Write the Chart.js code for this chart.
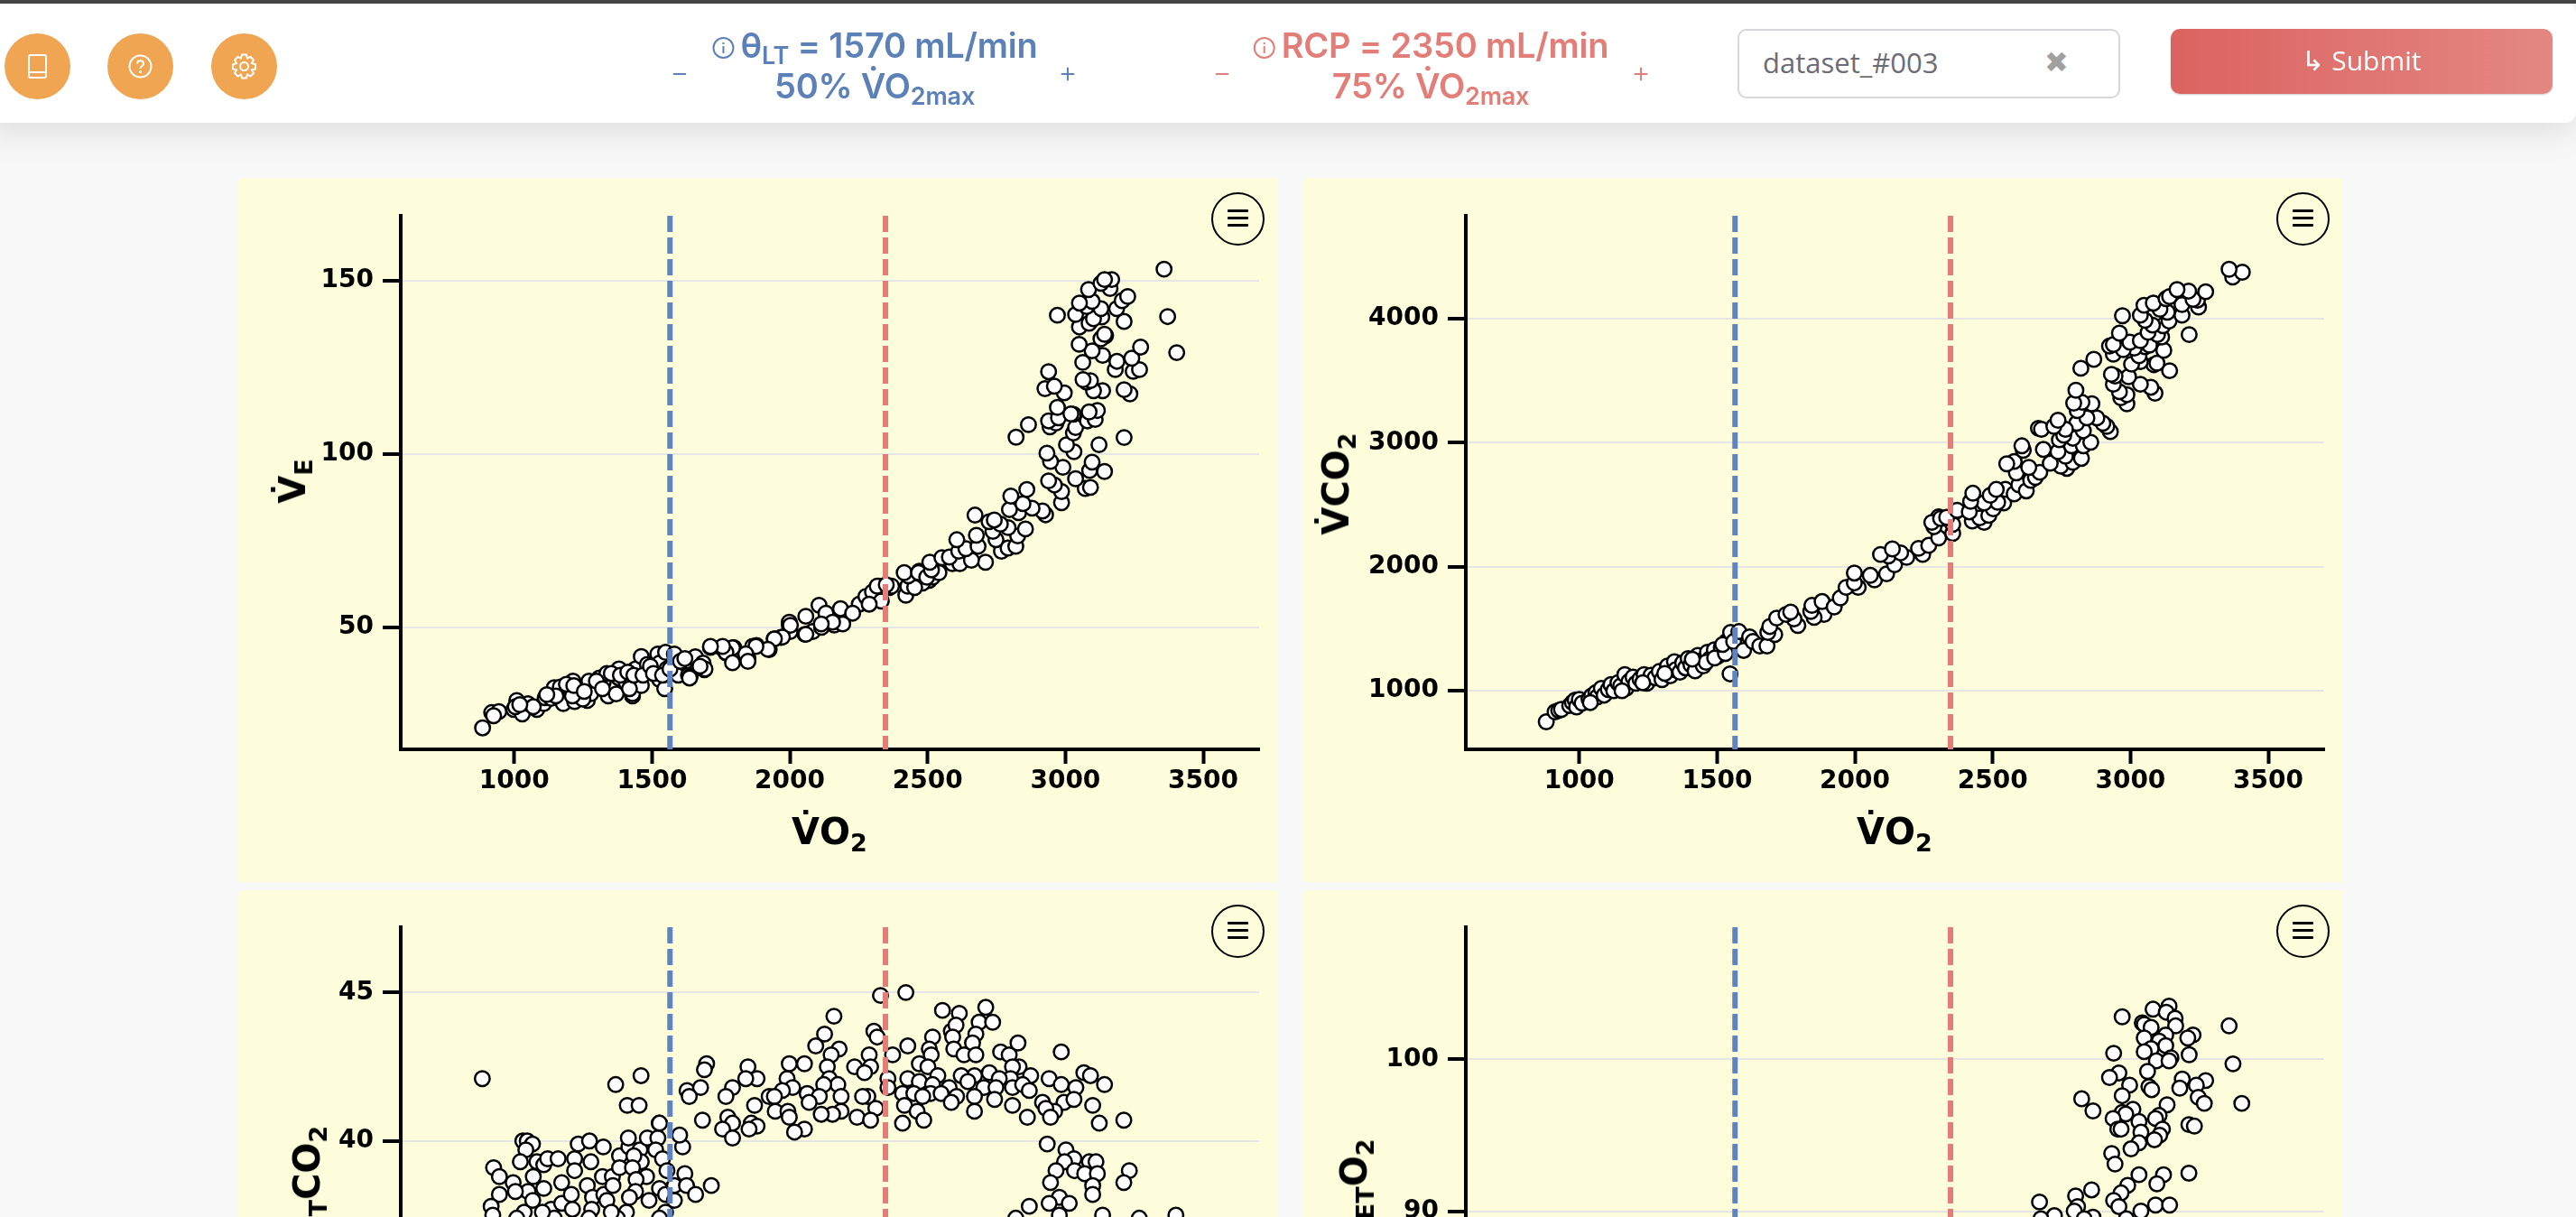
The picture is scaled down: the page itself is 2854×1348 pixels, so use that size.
<!DOCTYPE html>
<html>
<head>
<meta charset="utf-8">
<title>Threshold review</title>
<script src="https://cdn.jsdelivr.net/npm/chart.js@4"></script>
<style>
  html, body { margin: 0; height: 1348px; overflow: hidden; background: #f8f8f9; }
  body { position: relative; width: 2854px; font-family: Inter, sans-serif; }
  .topline { position: absolute; left: 0; top: 0; width: 2854px; height: 4px; background: #454545; z-index: 3; }
  .header { position: absolute; left: -20px; top: 3px; width: 2874px; height: 133px; background: #fff; border-radius: 0 12px 12px 0; box-shadow: 0 6px 40px rgba(0,0,0,0.13); z-index: 2; }
  .round { position: absolute; top: 37px; width: 73px; height: 73px; border-radius: 50%; background: #f0a553; z-index: 4; }
  .round svg { position: absolute; left: 20px; top: 20px; }
  .thr { position: absolute; top: 28px; text-align: center; font-weight: 600; font-size: 38px; line-height: 45px; white-space: nowrap; z-index: 4; letter-spacing: -0.2px; }
  .thr sub { font-size: 27px; line-height: 0; vertical-align: -7px; }
  .thr.blue, .step.blue { color: #5c80b8; }
  .thr.red, .step.red { color: #e27d78; }
  .thr svg { vertical-align: -2px; margin-right: 6px; }
  .step { position: absolute; top: 60px; font-size: 32px; font-weight: 300; z-index: 4; transform: translateX(-50%); }
  .field { position: absolute; left: 1925px; top: 32px; width: 420px; height: 73px; border: 2px solid #d6d6dc; border-radius: 10px; background: #fff; z-index: 4; font-family: "Open Sans", sans-serif; font-size: 31px; color: #6c6c76; line-height: 71px; }
  .field span { position: absolute; left: 26px; }
  .field b { position: absolute; left: 338px; font-family: "DejaVu Sans"; font-size: 32px; color: #a0a0a0; }
  .submit { position: absolute; left: 2405px; top: 32px; width: 423px; height: 72px; border-radius: 10px; background: linear-gradient(90deg, #db6360, #e38783); color: #fff; font-family: "Open Sans", sans-serif; font-weight: 500; font-size: 30px; line-height: 70px; text-align: center; z-index: 4; box-shadow: 0 1px 2px rgba(0,0,0,0.2); }
  .panel { position: absolute; width: 1152px; height: 780px; background: #fdfddb; border-radius: 4px; }
  .panel canvas { position: absolute; left: 0; top: 0; }
  .menu { position: absolute; left: 1078px; top: 16px; width: 55px; height: 55px; border: 2px solid #000; border-radius: 50%; }
  .menu i { position: absolute; left: 16px; width: 23px; height: 3px; background: #000; border-radius: 1px; }
  .xt, .yt { position: absolute; font-family: "DejaVu Sans"; font-weight: 700; font-size: 40px; white-space: nowrap; color: #000; line-height: 1; }
  .xt sub, .yt sub { font-size: 27px; line-height: 0; vertical-align: -8px; }
  .xt { left: 655px; top: 704px; transform: translateX(-50%); }
  .yt { transform: translate(-50%, -50%) rotate(-90deg); }
</style>
</head>
<body>
<div class="topline"></div>
<div class="header"></div>
<div class="round" style="left:5px"><svg width="33" height="33" viewBox="0 0 33 33" fill="none" stroke="#fff" stroke-width="2"><rect x="7" y="4" width="19" height="25" rx="2"/><line x1="7" y1="23" x2="26" y2="23"/></svg></div>
<div class="round" style="left:119px"><svg width="33" height="33" viewBox="0 0 33 33" fill="none" stroke="#fff" stroke-width="2"><circle cx="16.5" cy="16.5" r="12"/><path d="M13 13.5c0-4.5 7-4.5 7 0 0 3-3.5 2.5-3.5 5.5"/><circle cx="16.5" cy="22.5" r="0.6"/></svg></div>
<div class="round" style="left:234px"><svg width="33" height="33" viewBox="0 0 33 33" fill="none" stroke="#fff" stroke-width="2"><circle cx="16.5" cy="16.5" r="4.5"/><path d="M14 3.5h5l1 4 3.5-1.5 3.5 3.5-2 3.5 4 1.5v5l-4 1 2 3.5-3.5 3.5-3.5-2-1 4h-5l-1-4-3.5 2-3.5-3.5 2-3.5-4-1v-5l4-1.5-2-3.5 3.5-3.5 3.5 1.5z"/></svg></div>

<div class="step blue" style="left:753px">−</div>
<div class="thr blue" style="left:969px;transform:translateX(-50%)"><svg width="26" height="26" viewBox="0 0 26 26" fill="none" stroke="#5c80b8" stroke-width="2"><circle cx="13" cy="13" r="11"/><line x1="13" y1="11" x2="13" y2="19"/><line x1="13" y1="7" x2="13" y2="9"/></svg>θ<sub>LT</sub> = 1570 mL/min<br>50% V̇O<sub>2max</sub></div>
<div class="step blue" style="left:1183px">+</div>
<div class="step red" style="left:1354px">−</div>
<div class="thr red" style="left:1585px;transform:translateX(-50%)"><svg width="26" height="26" viewBox="0 0 26 26" fill="none" stroke="#e27d78" stroke-width="2"><circle cx="13" cy="13" r="11"/><line x1="13" y1="11" x2="13" y2="19"/><line x1="13" y1="7" x2="13" y2="9"/></svg>RCP = 2350 mL/min<br>75% V̇O<sub>2max</sub></div>
<div class="step red" style="left:1818px">+</div>
<div class="field"><span>dataset_#003</span><b>✖</b></div>
<div class="submit">↳ Submit</div>

<div id="panels"></div>

<script>
  // where the dashed lines sit on the axis in the picture
  const thetaLT = 1565;
  const rcp = 2347;

  const xTicks = [1000, 1500, 2000, 2500, 3000, 3500];
  const veTicks = [50, 100, 150];
  const vco2Ticks = [1000, 2000, 3000, 4000];
  const petco2Ticks = [40, 45];
  const peto2Ticks = [90, 100];

  // [VO2, VE]
  const vePoints = [[885,21],[918,25.4],[944,25.7],[925,24.5],[998,26.3],[1009,28.9],[1029,25],[1049,28],[1082,26.3],[1107,28],[1112,29.7],[1145,32.6],[1134,29.5],[1172,31],[1178,28],[1200,32.8],[1213,34.5],[1219,28.6],[1221,31.5],[1265,28.9],[1271,34.5],[1278,30.9],[1309,35.4],[1323,34.2],[1336,36.7],[1341,30.2],[1370,30.8],[1380,35.4],[1380,38],[1407,33.9],[1429,30.2],[1429,30.9],[1440,38],[1456,35.1],[1461,41.6],[1483,39.3],[1461,33.2],[1520,36.7],[1527,35],[1521,42.3],[1527,39.7],[1549,42.8],[1581,42.3],[1554,38],[1546,32.3],[1595,36.2],[1617,39.7],[1632,36.2],[1638,35.8],[1657,41.5],[1685,39.7],[1690,37.8],[1692,38],[1712,44.2],[1753,44.1],[1769,42.6],[1797,44.1],[1794,40.6],[1843,42.1],[1848,41],[1865,44.5],[1879,44.8],[1925,43.6],[1943,46.7],[1968,47.1],[2001,48.8],[2055,48],[1998,50.6],[2083,48.8],[2115,50],[2161,50.7],[2192,51],
    [1004,27.1],[1069,27.1],[1020,27.7],[1167,32.8],[1232,30.6],[1249,29.3],[1211,30.2],[1298,34.5],[1320,32.3],[1352,36.7],[1385,36.2],[1412,37.1],[1418,32.3],[1434,36.2],[1467,36.2],[1494,38.8],[1505,36.7],[1538,36.2],[1565,38],[1603,40.2],[1619,41],[1636,35.4],[1674,38.8],[1151,30.2],[1118,30.6],[1189,33.6],[1216,33.2],[1254,31.5],
    [2106,56.4],[2131,54.1],[2058,53.2],[1998,51.5],[2002,50.6],[2184,55.4],[2155,51.5],[2114,51],[2252,56.7],[2276,58.9],[2300,60.2],[2324,61.9],[2361,61.5],[2332,57.6],[2228,54.1],[2288,56.7],[2058,48],[1973,47.2],[1944,46.7],[1920,43.7],[1877,44.5],[1840,42.4],[1848,40.2],[1792,44.1],[1768,42.8],[1792,39.8],[1756,44.5],[1712,44.5],[2421,59.3],[2428,61.9],[2470,66.2],[2506,63.6],[2518,64.5],[2482,62.8],[2453,61.5],
    [2369,61.9],[2317,61.9],[2350,62.3],[2430,64.9],[2415,65.8],[2467,65.8],[2497,64.5],[2541,65.8],[2514,66.6],[2508,68.8],[2590,68.4],[2617,68.4],[2710,68.8],[2659,69.4],[2552,70.1],[2579,70.3],[2613,72],[2639,72.7],[2768,72],[2792,72.9],[2820,73.4],[2683,73.4],[2606,75.3],[2827,76.4],[2748,75.3],[2737,77.7],[2677,76.6],[2855,78.4],[2792,78.8],[2764,79.8],[2723,80.5],[2742,81],[2672,82.4],[2830,83.1],[2797,84],[2928,82.5],[2917,83.6],[2879,84.4],[2846,85.7],[2802,87.9],[2860,89.8],[2986,86],[3072,90.1],[3091,90.4],[2986,89.2],[2960,91.1],[2939,92.3],[3037,92.9],[3142,95],[3088,95.3],[3097,97.7],[2991,96.2],[2946,97.9],[2933,100.3],[3213,104.8],[3122,102.7],[3031,100.7],[3004,102.7],[3029,106.1],[3037,107.7],[2821,104.9],[2866,108.5],[2944,107.9],[2966,109],[2939,109.6],[2975,110.5],[3080,109.6],[3108,110],[3116,112.6],[3086,112.2],[3029,111.5],[3020,111.6],[2971,113.5],[3234,117.4],[3213,118.6],[3135,118.3],[3102,118.3],[3077,120.8],[3091,121.2],[3064,121.5],[2996,117.7],[2926,118.9],[2960,119.6],[2939,123.8],[3246,123.9],[3269,124.4],[3181,124.4],[3241,127.7],[3187,126.8],[3063,126.5],[3135,128.5],[3097,129.8],[3273,130.9],[3050,131.7],[3146,134.2],[3129,133.3],[3142,134.6],[3213,138.3],[3051,136.7],[3086,137.8],[3132,139.6],[3102,139.1],[2971,140.1],[3037,140.3],[3129,142],[3077,142.6],[3097,144.1],[3051,143.6],[3186,142],[3206,144.3],[3226,145.5],[3084,147.5],[3162,147.8],[3129,149.3],[3168,150.4],[3142,150.4],[3404,129.3],[3371,139.7],[3358,153.4]];

  // [VO2, VCO2]
  const vco2Points = [[880,750],[912,830],[925,842],[935,850],[965,880],[975,905],[985,925],[990,870],[1000,930],[1010,900],[1035,935],[1045,960],[1060,985],[1065,950],[1080,1020],[1090,965],[1105,1010],[1115,1050],[1125,1000],[1140,1065],[1150,1040],[1165,1130],[1170,1020],[1180,1075],[1195,1110],[1205,1060],[1220,1095],[1235,1130],[1245,1060],[1260,1125],[1275,1105],[1290,1155],[1300,1090],[1320,1200],[1330,1120],[1345,1235],[1350,1170],[1365,1150],[1375,1225],[1385,1185],[1395,1260],[1405,1210],[1420,1160],[1430,1285],[1440,1240],[1450,1200],[1465,1310],[1475,1260],[1490,1330],[1500,1275],[1515,1350],[1525,1300],[1535,1400],[1545,1330],[1460,1230],[1410,1255],[1310,1140],[1230,1065],[1155,1000],[1040,905],
    [1547,1136],[1491,1264],[1530,1301],[1520,1373],[1549,1470],[1560,1397],[1579,1477],[1596,1325],[1618,1434],[1630,1397],[1655,1361],[1681,1361],[1709,1453],[1684,1470],[1691,1518],[1716,1586],[1793,1526],[1779,1579],[1750,1615],[1767,1635],[1888,1615],[1852,1591],[1840,1639],[1844,1688],[1881,1719],[1925,1676],[1947,1748],[2012,1833],[1968,1833],[1998,1869],[1998,1949],[2071,1893],[2056,1930],[2115,1942],[2144,2015],[2122,2087],[2188,2075],[2166,2111],[2093,2099],[2136,2143],[2246,2099],[2231,2148],[2268,2172],[2304,2232],[2287,2322],[2355,2269],[2355,2341],[2304,2402],[2326,2390],[2370,2450],
    [2469,2357],[2426,2369],[2279,2357],[2453,2393],[2486,2413],[2311,2389],[2333,2398],[2371,2454],[2415,2442],[2502,2466],[2540,2514],[2518,2519],[2469,2514],[2420,2526],[2428,2592],[2546,2623],[2491,2575],[2513,2623],[2578,2587],[2595,2660],[2622,2611],[2638,2696],[2655,2720],[2671,2761],[2586,2756],[2631,2800],[2769,2793],[2747,2810],[2709,2834],[2578,2848],[2551,2829],[2791,2841],[2822,2873],[2764,2890],[2737,2926],[2786,2974],[2684,2945],[2611,2938],[2606,2974],[2829,2974],[2856,3003],[2742,3023],[2791,3035],[2758,3059],[2829,3095],[2805,3156],[2764,3107],[2666,3115],[2677,3107],[2722,3131],[2737,3180],[2927,3088],[2914,3131],[2900,3156],[2878,3199],[2842,3199],[2807,3257],[2860,3313],[2824,3325],[2794,3318],[2987,3313],[2965,3361],[2987,3386],[2960,3410],[2802,3422],[3089,3398],[3074,3446],[3036,3470],[2938,3470],[2993,3531],[2944,3536],[2931,3550],[3142,3579],[2820,3599],[2867,3671],[3085,3628],[3096,3640],[3036,3652],[3004,3632],[3031,3700],[2938,3712],[3053,3773],[3121,3744],[3069,3785],[3014,3761],[2974,3749],[2924,3778],[2938,3790],[2998,3809],[3036,3821],[3113,3850],[3098,3870],[2960,3882],[3213,3870],[3118,3942],[3064,3889],[3080,3947],[3140,3979],[2971,4022],[3053,3986],[3036,4027],[3187,4027],[3134,4051],[3167,4184],[3247,4092],[3187,4112],[3107,4075],[3049,4107],[3083,4124],[3243,4148],[3227,4155],[3129,4160],[3142,4177],[3211,4221],[3169,4233],[3273,4216],[3371,4334],[3406,4373],[3358,4397]];

  // [VO2, PETCO2]
  const petco2Points = [[884,42.1],[1368,41.9],[1460,42.2],[1410,41.2],[1453,41.2],[1526,40.6],
    [1031,40],[1047,40],[1066,39.9],[1042,39.7],[925,39.1],[946,38.8],[996,38.6],[1022,39.3],[1082,39.3],[1107,39.2],[1121,39.4],[1159,39.4],[1219,39.4],[1232,39.9],[1273,40],[1323,39.8],[1278,39.3],[1219,39],[1069,38.8],[1172,38.6],[1107,38.4],[1050,38.3],[1004,38.3],[946,38.2],[916,37.8],[1036,37.6],[1067,38],[1134,37.7],[1172,37.9],[1207,38.2],[1211,37.7],[1265,38.5],[1284,38.1],[1320,38.8],[1356,38.8],[1325,38.2],[1336,38],[1281,37.7],[1358,38.5],[1382,39.5],[1416,39.8],[1456,39.7],[1483,40.1],[1414,40.1],[1521,40.1],[1513,39.7],[1538,39.4],[1461,39.3],[1434,39.5],[1382,39.1],[1429,39.1],[1480,38.8],[1442,38.7],[1440,38.3],[1418,38.1],[1489,38],[1527,38.4],[1549,38.2],[1581,38],[1581,38.5],[1619,38.9],[1625,38.5],[1658,38.2],[1715,38.5],[1554,39],[1611,39.8],[1600,40.2],[1527,40.6],[1549,37.6],[1527,37.4],[1407,37.6],[1374,37.4],[1271,37.4],[1145,37.4],[1102,37.6],[1009,37.4],[922,37.5],[1352,37.6],
    [2329,44.9],[2421,45],[2554,44.4],[2615,44.3],[2711,44.5],[2687,44],[2736,44],[2160,44.2],[2305,43.7],[2317,43.5],[2126,43.6],[2094,43.2],[2179,43.1],[2150,42.9],[2288,42.9],[2586,43.7],[2675,43.6],[2603,43.9],[2518,43.5],[2428,43.2],[2591,43.5],[2506,43.1],[2513,42.9],[2595,43.1],[2663,43.3],[2632,42.9],[2675,42.9],[2765,43],[2796,42.9],[2828,43.3],[2985,43],[2373,42.9],[2235,42.5],[2053,42.6],[1998,42.6],[1848,42.5],[1698,42.6],[1690,42.4],[2136,42.5],[2293,42.5],[2271,42.3],[2470,42.6],[2501,42.5],[2832,42.5],[2808,42.5],[2670,42.2],[2724,42.3],[2537,42.2],[2622,42.2],[2428,42.1],[2470,42],[2356,42.1],[2356,41.8],[1990,42.1],[1881,42.1],[1840,42.1],[1792,41.8],[1627,41.7],[1676,41.8],[2143,42.1],[2174,41.9],[2123,41.9],[2010,41.8],[1973,41.7],[2874,42.2],[2801,42.1],[2760,42.1],[2941,42.1],[2985,41.9],[3067,42.3],[3091,42.2],[3142,41.9],[3038,41.8],[2646,42],[2518,41.9],[2578,41.8],[2704,41.8],[2748,41.8],[2808,41.8],[2845,41.9],[2869,41.7],[1635,41.5],[1768,41.5],[1925,41.5],[1944,41.5],[2063,41.6],[2107,41.5],[2070,41.3],[2186,41.5],[2283,41.5],[2264,41.5],[2409,41.6],[2450,41.6],[2511,41.6],[2482,41.5],[2549,41.6],[2605,41.5],[2670,41.5],[2586,41.3],[2743,41.4],[2917,41.3],[2995,41.3],[3031,41.4],[3099,41.2],[1872,41.2],[2416,41.2],[2808,41.2],[2961,41],[2929,41.1],[2312,41.1],[2186,41],[1947,41],[1993,41],[2155,40.9],[2114,40.9],[1775,40.8],[1683,40.7],[1998,40.8],[2244,40.8],[2670,41],[2462,41],[2409,40.6],[2293,40.7],[2486,40.7],[2862,40.8],[2946,40.8],[3123,40.6],[3212,40.7],[1792,40.6],[1860,40.6],[1881,40.5],[1852,40.4],[1756,40.4],[1792,40.1],[2053,40.4],[2017,40.3],[2934,39.9],[3002,39.7],[3031,39.4],[2997,39.3],[3087,39.3],[3111,39.3],[2966,39],[3033,39],[3070,38.9],[3116,38.9],[3232,39],[3212,38.6],[2946,38.6],[3099,38.5],[3099,38.2],[2978,38.1],[2941,37.9],[3014,37.9],[2869,37.8],[2820,37.4],[2978,37.5],[3135,37.5],[3268,37.4],[3401,37.5]];

  // [VO2, PETO2]
  const peto2Points = [[3140,103.5],[3082,103.3],[3130,103.1],[3162,102.7],[2970,102.8],[3043,102.4],[3050,102.3],[3075,102.1],[3164,102.2],[3358,102.2],[3050,101.4],[3128,101.6],[3104,101.2],[3227,101.6],[3208,101.4],[3128,100.9],[3075,100.7],[3050,100.5],[2939,100.4],[3213,100.3],[3147,100.1],[3094,99.9],[3140,99.9],[3372,99.7],[3062,99.2],[2958,99.1],[2924,98.8],[3188,98.7],[3273,98.6],[2997,98.3],[3239,98.3],[3067,98.2],[3077,98],[3179,98.1],[2970,97.6],[3246,97.5],[2823,97.4],[3268,97.1],[3404,97.1],[3133,97],[2864,96.6],[2970,96.5],[3009,96.7],[2983,96.4],[3104,96.3],[2937,96.1],[3091,96.1],[3031,95.9],[3212,95.7],[3232,95.6],[2954,95.4],[2966,95.4],[3116,95.4],[3038,95.2],[3106,95],[3087,94.7],[3031,94.5],[3002,94.1],[2932,93.8],[2944,93.1],[3212,92.5],[3120,92.4],[3031,92.4],[3096,91.8],[2990,91.7],[2859,91.4],[2966,91.2],[2801,91],[2670,90.6],[2939,90.7],[2808,90.3],[2958,90.3],[3091,90.4],[3142,90.4],[2796,90],[3038,90],[2724,89.7],[2864,89.6],[2985,89.5],[2675,89.5],[2832,89.5]];

  const xMin = 588;
  const xMax = 3703;

  const panels = [
    { left: 264, top: 197, padTop: 42, points: vePoints, ticks: veTicks, yMin: 14.8, yMax: 168.8, title: 'V̇<sub>E</sub>', titleX: 60, titleY: 336 },
    { left: 1444, top: 197, padTop: 42, points: vco2Points, ticks: vco2Ticks, yMin: 528, yMax: 4828, title: 'V̇CO<sub>2</sub>', titleX: 36, titleY: 339 },
    { left: 264, top: 986, padTop: 41, points: petco2Points, ticks: petco2Ticks, yMin: 29.2, yMax: 47.2, title: 'P<sub>ET</sub>CO<sub>2</sub>', titleX: 76, titleY: 335 },
    { left: 1444, top: 986, padTop: 41, points: peto2Points, ticks: peto2Ticks, yMin: 73.5, yMax: 108.7, title: 'P<sub>ET</sub>O<sub>2</sub>', titleX: 56, titleY: 335 }
  ];

  const tickFont = { family: 'DejaVu Sans', weight: 'bold', size: 28 };

  function buildPanel(p) {
    const box = document.createElement('div');
    box.className = 'panel';
    box.style.left = p.left + 'px';
    box.style.top = p.top + 'px';
    box.innerHTML = '<canvas width="1152" height="780"></canvas>' +
      '<div class="menu"><i style="top:17px"></i><i style="top:25px"></i><i style="top:33px"></i></div>' +
      '<div class="xt">V̇O<sub>2</sub></div>' +
      `<div class="yt" style="left:${p.titleX}px;top:${p.titleY}px">${p.title}</div>`;
    document.getElementById('panels').appendChild(box);

    new Chart(box.querySelector('canvas'), {
      type: 'scatter',
      data: {
        datasets: [
          {
            data: [{ x: thetaLT, y: p.yMax }, { x: thetaLT, y: p.yMin }],
            showLine: true, borderColor: '#5f84bf', borderWidth: 6, borderDash: [18, 6], pointRadius: 0
          },
          {
            data: [{ x: rcp, y: p.yMax }, { x: rcp, y: p.yMin }],
            showLine: true, borderColor: '#e57c78', borderWidth: 6, borderDash: [18, 6], pointRadius: 0
          },
          {
            data: p.points.map(d => ({ x: d[0], y: d[1] })),
            pointRadius: 8.2, borderWidth: 2.5, borderColor: '#000', backgroundColor: '#fff'
          }
        ]
      },
      options: {
        responsive: false,
        animation: false,
        devicePixelRatio: 1,
        layout: { padding: { top: p.padTop, right: 21, left: 0, bottom: 0 } },
        plugins: { legend: { display: false }, tooltip: { enabled: false } },
        scales: {
          x: {
            type: 'linear', min: xMin, max: xMax,
            afterBuildTicks: s => { s.ticks = xTicks.map(value => ({ value })); },
            afterFit: s => { s.height = 147; },
            border: { color: '#000', width: 4 },
            grid: { drawOnChartArea: false, tickColor: '#000', tickWidth: 4, tickLength: 16 },
            ticks: { color: '#000', font: tickFont, padding: 3, maxRotation: 0, callback: v => String(v) }
          },
          y: {
            type: 'linear', min: p.yMin, max: p.yMax,
            afterBuildTicks: s => { s.ticks = p.ticks.map(value => ({ value })); },
            afterFit: s => { s.width = 180; },
            border: { color: '#000', width: 4 },
            grid: { color: '#e5e5e6', lineWidth: 2, tickColor: '#000', tickWidth: 4, tickLength: 20 },
            ticks: { color: '#000', font: tickFont, padding: 10, callback: v => String(v) }
          }
        }
      }
    });
  }

  panels.forEach(buildPanel);
</script>
</body>
</html>
